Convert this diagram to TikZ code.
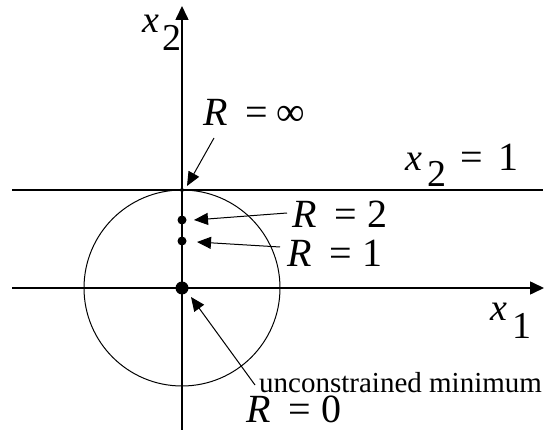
\documentclass[tikz,border=0pt]{standalone}
\usepackage{fontspec}
\setmainfont{Liberation Serif}
\usetikzlibrary{arrows.meta}
\begin{document}
\begin{tikzpicture}[x=1pt,y=-1pt,
  axis/.style={line width=1.6pt,-{Triangle[length=14pt,width=13pt]}},
  hline/.style={line width=1.6pt},
  ptr/.style={line width=1pt,-{Triangle[length=14pt,width=12pt]}},
  lbl/.style={anchor=base west,inner sep=0pt,font=\fontsize{40}{46}\selectfont},
  var/.style={anchor=base west,inner sep=0pt,font=\fontsize{38}{44}\selectfont},
  small/.style={anchor=base west,inner sep=0pt,font=\fontsize{29}{34}\selectfont},
  dot/.style={circle,fill=black,inner sep=0pt}]
\useasboundingbox (0,0) rectangle (548,430);
\coordinate (O) at (182,288);
\coordinate (ytop) at (182,6);
\coordinate (ybot) at (182,430);
\coordinate (xl) at (12,288);
\coordinate (xr) at (544,288);
\coordinate (ll) at (12,190);
\coordinate (lr) at (543,190);
\draw[line width=1pt] (O) circle[radius=98];
\draw[axis] (ybot) -- (ytop);
\draw[axis] (xl) -- (xr);
\draw[hline] (ll) -- (lr);
\node[dot,minimum size=4pt] (d0) at (182,190) {};
\node[dot,minimum size=9pt] (d2) at (182,220) {};
\node[dot,minimum size=9pt] (d1) at (182,241) {};
\node[dot,minimum size=13pt] (dO) at (O) {};
% labels
\node[var] (x2) at (142,33) {\textit{x}};
\node[var] (x2s) at (162,51) {2};
\node[lbl] (Rinf) at (203,126) {\textit{R}\hspace{0.45em}=\hspace{0.2em}∞};
\node[lbl] (R2) at (292,227) {\textit{R}\hspace{0.45em}=\hspace{0.25em}2};
\node[lbl] (R1) at (287,266) {\textit{R}\hspace{0.45em}=\hspace{0.25em}1};
\node[var] (lx2) at (405,171) {\textit{x}};
\node[var] (lx2s) at (427,187) {2};
\node[lbl] (lx2r) at (460,171) {=\hspace{0.4em}1};
\node[var] (x1) at (490,320) {\textit{x}};
\node[var] (x1s) at (512,338) {1};
\node[small] (unc) at (259,392) {unconstrained minimum};
\node[lbl] (R0) at (246,422) {\textit{R}\hspace{0.45em}=\hspace{0.25em}0};
% pointers
\coordinate (ainf) at (214,138);
\coordinate (tinf) at (187,186);
\coordinate (a2) at (287,213);
\coordinate (t2) at (194,220);
\coordinate (a1) at (280,247);
\coordinate (t1) at (197,242);
\coordinate (a0) at (255,385);
\coordinate (t0) at (191,297);
\draw[ptr] (ainf) -- (tinf);
\draw[ptr] (a2) -- (t2);
\draw[ptr] (a1) -- (t1);
\draw[ptr] (a0) -- (t0);
\end{tikzpicture}
\end{document}
